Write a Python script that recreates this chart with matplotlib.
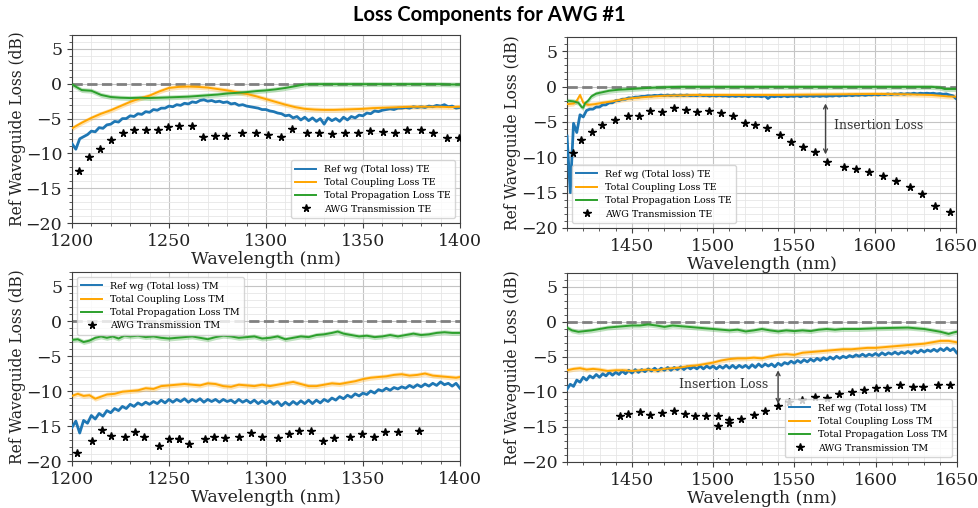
import numpy as np
import matplotlib
matplotlib.use("Agg")
import matplotlib.pyplot as plt
from matplotlib.ticker import MultipleLocator

# ---------------- data ----------------
# Panel TE, 1200-1400 nm
ref_te1 = [-8.6, -9.4, -7.9, -7.6, -7.3, -6.8, -6.9, -6.3, -6.4, -5.9, -5.8, -5.4, -5.5, -5.0, -5.0,
           -4.6, -4.7, -4.3, -4.4, -4.0, -4.1, -3.7, -3.8, -3.5, -3.5, -3.2, -3.3, -3.0, -3.1, -2.8,
           -2.9, -2.6, -2.7, -2.4, -2.3, -2.5, -2.4, -2.6, -2.5, -2.7, -2.6, -2.9, -2.8, -3.1, -3.0,
           -3.2, -3.3, -3.4, -3.5, -3.7, -3.7, -3.9, -4.0, -4.2, -4.3, -4.6, -4.5, -4.9, -4.7, -5.2,
           -4.8, -5.3, -4.9, -5.4, -5.0, -5.8, -4.9, -5.3, -5.0, -5.4, -4.8, -5.2, -4.7, -4.9, -4.5,
           -4.6, -4.2, -4.3, -3.9, -4.0, -3.8, -3.7, -3.6, -3.7, -3.5, -3.5, -3.4, -3.5, -3.3, -3.4,
           -3.3, -3.4, -3.2, -3.3, -3.1, -3.2, -3.0, -3.3, -3.2, -3.5, -3.4]
cpl_te1_wl = [1200, 1205, 1210, 1215, 1220, 1225, 1230, 1235, 1240, 1245, 1250, 1255, 1260, 1265,
              1270, 1275, 1280, 1285, 1290, 1295, 1300, 1305, 1310, 1315, 1320, 1325, 1330, 1335,
              1340, 1345, 1350, 1355, 1360, 1365, 1370, 1375, 1380, 1385, 1390, 1395, 1400]
cpl_te1 = [-6.4, -5.6, -4.9, -4.3, -3.8, -3.2, -2.6, -2.1, -1.7, -1.1, -0.6, -0.45, -0.4, -0.45,
           -0.55, -0.75, -0.95, -1.2, -1.45, -1.8, -2.2, -2.6, -3.0, -3.35, -3.6, -3.7, -3.75, -3.75,
           -3.7, -3.65, -3.6, -3.5, -3.45, -3.4, -3.35, -3.3, -3.3, -3.3, -3.3, -3.35, -3.3]
prop_te1_wl = cpl_te1_wl
prop_te1 = [-0.1, -0.9, -1.0, -1.6, -1.9, -2.0, -2.05, -2.0, -2.05, -2.0, -1.95, -1.9, -1.85, -1.75,
            -1.65, -1.55, -1.4, -1.3, -1.2, -1.05, -0.95, -0.8, -0.6, -0.35, -0.08, -0.05, -0.05, -0.05,
            -0.05, -0.05, -0.05, -0.05, -0.05, -0.05, -0.05, -0.05, -0.05, -0.05, -0.05, -0.1, -0.1]
awg_te1_wl = [1203.4, 1208.7, 1214.4, 1220.1, 1226.1, 1231.9, 1238.4, 1244.6, 1249.6, 1255.1, 1261.9,
              1267.6, 1273.6, 1279.2, 1287.7, 1294.9, 1301.2, 1307.9, 1313.6, 1321.3, 1327.6, 1334.1,
              1340.5, 1347.5, 1353.7, 1360.2, 1366.7, 1372.6, 1380.0, 1385.9, 1393.3, 1399.3]
awg_te1 = [-12.5, -10.5, -9.4, -8.1, -7.1, -6.6, -6.6, -6.7, -6.2, -6.0, -6.1, -7.7, -7.5, -7.5, -7.0,
           -7.0, -7.4, -7.6, -6.5, -7.0, -7.0, -7.2, -7.1, -7.1, -6.8, -6.9, -7.1, -6.7, -6.6, -7.0,
           -7.8, -7.8]

# Panel TE, 1410-1650 nm
ref_te2 = [-7.0, -15.0, -5.2, -6.5, -4.0, -4.3, -3.4, -3.2, -3.2, -2.9, -2.9, -2.6, -2.6, -2.3, -2.3,
           -2.0, -2.0, -1.8, -1.8, -1.6, -1.65, -1.5, -1.5, -1.4, -1.4, -1.3, -1.35, -1.25, -1.3, -1.2,
           -1.3, -1.2, -1.3, -1.2, -1.3, -1.2, -1.3, -1.2, -1.3, -1.25, -1.3, -1.2, -1.3, -1.25, -1.35,
           -1.25, -1.35, -1.25, -1.35, -1.3, -1.4, -1.3, -1.4, -1.3, -1.4, -1.3, -1.45, -1.3, -1.4, -1.35,
           -1.45, -1.3, -1.7, -1.35, -1.45, -1.35, -1.45, -1.3, -1.45, -1.35, -1.4, -1.3, -1.45, -1.3, -1.4,
           -1.3, -1.4, -1.3, -1.4, -1.3, -1.4, -1.3, -1.35, -1.25, -1.35, -1.25, -1.3, -1.2, -1.3, -1.2,
           -1.25, -1.15, -1.25, -1.15, -1.2, -1.1, -1.2, -1.1, -1.15, -1.05, -1.15, -1.05, -1.1, -1.0, -1.1,
           -1.0, -1.05, -0.95, -1.05, -0.95, -1.0, -0.95, -1.0, -0.95, -1.05, -1.0, -1.1, -1.05, -1.2, -1.3,
           -1.7]
cpl_te2_wl = [1410, 1414, 1416, 1418, 1420, 1423, 1427, 1432, 1438, 1445, 1450, 1460, 1470, 1480, 1490,
              1500, 1520, 1540, 1560, 1580, 1600, 1620, 1635, 1645, 1650]
cpl_te2 = [-2.5, -2.4, -2.0, -1.2, -2.3, -2.6, -2.5, -2.3, -2.1, -1.8, -1.65, -1.45, -1.3, -1.25, -1.2,
           -1.2, -1.2, -1.2, -1.15, -1.1, -1.05, -1.1, -1.2, -1.4, -1.45]
prop_te2_wl = [1410, 1414, 1417, 1419, 1420, 1421, 1423, 1425, 1428, 1432, 1436, 1442, 1450, 1460, 1470,
               1480, 1500, 1550, 1600, 1635, 1640, 1643, 1650]
prop_te2 = [-2.0, -2.1, -2.3, -2.9, -3.0, -2.4, -2.0, -1.4, -1.0, -0.8, -0.6, -0.45, -0.35, -0.2, -0.1,
            -0.05, -0.05, -0.05, -0.05, -0.05, -0.15, -0.35, -0.35]
awg_te2_wl = [1413.7, 1418.4, 1425.4, 1431.8, 1439.8, 1447.4, 1454.4, 1461.4, 1468.8, 1475.8, 1483.4,
              1490.4, 1497.4, 1504.8, 1512.6, 1520.0, 1526.1, 1533.3, 1541.3, 1548.3, 1555.5, 1562.7,
              1570.3, 1581.0, 1588.6, 1596.4, 1605.1, 1612.9, 1621.9, 1629.3, 1637.3, 1646.2]
awg_te2 = [-9.35, -7.5, -6.4, -5.5, -4.7, -4.1, -4.1, -3.5, -3.6, -3.1, -3.3, -3.6, -3.5, -3.8, -4.1,
           -5.2, -5.5, -5.8, -6.8, -7.9, -8.5, -9.2, -10.7, -11.4, -11.7, -12.1, -12.7, -13.3, -14.2,
           -15.2, -16.9, -17.8]

# Panel TM, 1200-1400 nm
ref_tm1 = [-15.2, -14.3, -16.0, -14.2, -14.6, -13.5, -14.0, -13.2, -13.6, -12.8, -13.1, -12.5, -12.8,
           -12.2, -12.5, -11.9, -12.2, -11.7, -12.0, -11.6, -11.9, -11.5, -11.8, -11.3, -11.7, -11.2,
           -11.6, -11.2, -11.5, -11.1, -11.6, -11.2, -11.5, -11.1, -11.6, -11.2, -11.5, -11.2, -11.6,
           -11.2, -11.5, -11.3, -11.7, -11.2, -11.6, -11.3, -11.7, -11.3, -11.8, -11.4, -11.8, -11.4,
           -11.9, -11.5, -12.1, -11.6, -12.0, -11.5, -11.9, -11.4, -11.8, -11.3, -11.8, -11.3, -11.7,
           -11.2, -11.5, -11.0, -11.3, -10.8, -11.1, -10.6, -10.9, -10.4, -10.7, -10.3, -10.5, -10.0,
           -10.3, -9.8, -10.0, -9.6, -9.9, -9.5, -9.7, -9.4, -9.6, -9.2, -9.5, -9.1, -9.4, -9.0, -9.3,
           -8.9, -9.2, -8.7, -9.1, -8.9, -9.3, -8.9, -9.6]
cpl_tm1_wl = [1200, 1203, 1206, 1209, 1212, 1215, 1218, 1222, 1226, 1230, 1234, 1238, 1242, 1246, 1250,
              1254, 1258, 1262, 1266, 1270, 1274, 1278, 1282, 1286, 1290, 1294, 1298, 1302, 1306, 1310,
              1314, 1318, 1322, 1326, 1330, 1334, 1338, 1342, 1346, 1350, 1354, 1358, 1362, 1366, 1370,
              1374, 1378, 1382, 1386, 1390, 1394, 1398, 1400]
cpl_tm1 = [-10.7, -10.4, -10.7, -10.6, -11.1, -10.8, -10.5, -10.4, -10.1, -10.0, -9.9, -9.6, -9.7, -9.3,
           -9.2, -9.1, -9.0, -9.1, -9.2, -8.9, -9.0, -9.3, -9.4, -9.1, -9.2, -9.3, -9.1, -9.3, -9.1, -8.9,
           -8.7, -9.0, -9.3, -9.3, -9.1, -8.9, -9.0, -8.8, -8.6, -8.3, -8.1, -8.0, -7.9, -7.7, -7.6, -7.8,
           -7.7, -7.5, -7.8, -7.9, -8.0, -8.1, -8.0]
prop_tm1_wl = [1200, 1203, 1206, 1209, 1212, 1215, 1218, 1221, 1224, 1227, 1230, 1234, 1238, 1242, 1246,
               1250, 1254, 1258, 1262, 1266, 1270, 1274, 1278, 1282, 1286, 1290, 1294, 1298, 1302, 1306,
               1310, 1314, 1318, 1322, 1326, 1330, 1334, 1337, 1340, 1344, 1348, 1352, 1356, 1360, 1364,
               1368, 1372, 1376, 1380, 1384, 1388, 1392, 1396, 1400]
prop_tm1 = [-2.7, -2.6, -3.0, -2.8, -2.4, -2.2, -2.4, -2.2, -2.5, -2.1, -2.2, -2.1, -2.3, -2.2, -2.4,
            -2.5, -2.4, -2.3, -2.2, -2.4, -2.6, -2.3, -2.1, -2.2, -2.4, -2.3, -2.2, -2.5, -2.4, -2.2,
            -2.6, -2.4, -2.2, -2.3, -2.0, -1.9, -1.7, -1.5, -1.8, -2.0, -2.2, -2.1, -2.3, -2.2, -2.0,
            -2.2, -2.0, -1.8, -2.0, -1.9, -1.7, -1.6, -1.7, -1.7]
awg_tm1_wl = [1202.7, 1210.3, 1215.4, 1220.1, 1227.6, 1232.4, 1237.0, 1244.9, 1249.9, 1255.1, 1255.4,
              1260.4, 1268.4, 1273.4, 1279.1, 1286.3, 1292.3, 1298.1, 1306.0, 1311.8, 1317.2, 1323.2,
              1329.2, 1335.2, 1343.1, 1349.6, 1355.7, 1361.6, 1367.9, 1379.1]
awg_tm1 = [-18.9, -17.2, -15.5, -16.4, -16.6, -15.8, -16.6, -17.9, -16.9, -16.8, -16.9, -17.6, -16.8,
           -16.5, -16.7, -16.6, -16.0, -16.5, -16.7, -16.1, -15.7, -15.7, -17.1, -16.7, -16.5, -16.1,
           -16.5, -15.9, -15.8, -15.7]

# Panel TM, 1410-1650 nm
ref_tm2 = [-9.6, -8.9, -9.2, -8.3, -8.6, -7.9, -8.3, -7.7, -8.0, -7.5, -7.9, -7.4, -7.7, -7.2, -7.6,
           -7.2, -7.5, -7.0, -7.4, -6.9, -7.3, -6.8, -7.2, -6.8, -7.1, -6.7, -7.0, -6.6, -7.0, -6.6,
           -6.9, -6.5, -6.9, -6.5, -6.8, -6.4, -6.8, -6.4, -6.7, -6.4, -6.7, -6.3, -6.7, -6.3, -6.6,
           -6.3, -6.7, -6.3, -6.6, -6.2, -6.6, -6.2, -6.6, -6.2, -6.5, -6.2, -6.6, -6.1, -6.5, -6.0,
           -6.4, -6.0, -6.3, -6.0, -6.4, -5.9, -6.2, -5.8, -6.0, -5.6, -5.9, -5.5, -5.8, -5.4, -5.7,
           -5.3, -5.6, -5.2, -5.5, -5.1, -5.4, -5.0, -5.3, -4.9, -5.2, -4.9, -5.1, -4.8, -5.0, -4.7,
           -4.9, -4.6, -4.9, -4.6, -4.8, -4.5, -4.8, -4.4, -4.7, -4.4, -4.6, -4.3, -4.6, -4.3, -4.5,
           -4.2, -4.5, -4.1, -4.4, -4.0, -4.3, -4.0, -4.2, -3.9, -4.2, -3.8, -4.1, -3.7, -4.1, -3.8,
           -4.4]
cpl_tm2_wl = [1410, 1414, 1418, 1422, 1426, 1430, 1435, 1440, 1445, 1450, 1455, 1460, 1465, 1470, 1475,
              1480, 1485, 1490, 1495, 1500, 1505, 1510, 1515, 1520, 1525, 1530, 1535, 1540, 1545, 1550,
              1555, 1560, 1565, 1570, 1575, 1580, 1585, 1590, 1595, 1600, 1605, 1610, 1615, 1620, 1625,
              1630, 1635, 1640, 1645, 1650]
cpl_tm2 = [-6.9, -6.7, -6.6, -6.8, -6.7, -6.8, -7.0, -6.9, -6.9, -7.0, -6.9, -6.8, -6.9, -6.7, -6.6,
           -6.5, -6.3, -6.2, -6.0, -5.8, -5.5, -5.3, -5.2, -5.2, -5.1, -5.2, -4.9, -4.7, -4.6, -4.7,
           -4.4, -4.3, -4.2, -4.1, -4.0, -3.9, -3.9, -3.8, -3.7, -3.7, -3.6, -3.5, -3.4, -3.3, -3.2,
           -3.1, -2.9, -2.7, -2.7, -2.9]
prop_tm2_wl = [1410, 1413, 1417, 1421, 1425, 1430, 1435, 1440, 1445, 1450, 1455, 1460, 1465, 1470, 1475,
               1480, 1485, 1490, 1495, 1500, 1505, 1510, 1515, 1520, 1525, 1530, 1535, 1540, 1545, 1550,
               1555, 1560, 1565, 1570, 1575, 1580, 1590, 1600, 1610, 1620, 1630, 1635, 1640, 1645, 1648,
               1650]
prop_tm2 = [-0.8, -1.2, -1.4, -1.3, -1.2, -1.0, -0.8, -0.7, -0.6, -0.5, -0.5, -0.35, -0.5, -0.7, -0.5,
            -0.6, -0.7, -0.8, -0.9, -1.0, -1.1, -1.2, -1.1, -1.35, -1.2, -1.0, -1.2, -1.35, -1.2, -1.3,
            -1.2, -1.3, -1.1, -1.0, -1.1, -1.0, -1.0, -0.9, -0.85, -0.8, -1.0, -1.2, -1.4, -1.7, -1.5,
            -1.4]
awg_tm2_wl = [1442.5, 1447.6, 1455.2, 1461.0, 1468.2, 1475.6, 1482.8, 1489.1, 1495.5, 1502.9, 1502.9,
              1509.9, 1509.9, 1516.9, 1525.1, 1531.9, 1539.9, 1546.7, 1554.9, 1562.9, 1570.3, 1577.3,
              1585.3, 1592.9, 1600.5, 1607.3, 1614.9, 1623.0, 1629.1, 1638.2, 1645.8]
awg_tm2 = [-13.4, -13.2, -12.8, -13.3, -13.0, -12.7, -13.1, -13.4, -13.4, -13.4, -14.9, -14.0, -14.4,
           -13.8, -13.3, -12.7, -12.0, -11.5, -11.1, -10.7, -10.8, -10.3, -10.0, -9.7, -9.4, -9.4, -9.0,
           -9.3, -9.3, -9.0, -9.0]

# ---------------- styling ----------------
BLUE = "#1f77b4"
ORANGE = "#ffa500"
GREEN = "#2ca02c"
SERIF = "DejaVu Serif"

fig = plt.figure(figsize=(9.79, 5.08), dpi=100)
fig.text(0.5, 0.970, "Loss Components for AWG #1", ha="center", va="center",
         fontsize=14.5, fontweight="bold", family="Lato")

panels = [
    dict(rect=[0.0735, 0.561, 0.3963, 0.370], xlim=(1200, 1400), xt=[1200, 1250, 1300, 1350, 1400],
         ref=ref_te1, ref_rng=(1200, 1400), cwl=cpl_te1_wl, c=cpl_te1, pwl=prop_te1_wl, p=prop_te1,
         awl=awg_te1_wl, a=awg_te1, pol="TE", loc="lower right"),
    dict(rect=[0.5792, 0.5512, 0.3973, 0.376], xlim=(1410, 1650), xt=[1450, 1500, 1550, 1600, 1650],
         ref=ref_te2, ref_rng=(1410, 1650), cwl=cpl_te2_wl, c=cpl_te2, pwl=prop_te2_wl, p=prop_te2,
         awl=awg_te2_wl, a=awg_te2, pol="TE", loc="lower left"),
    dict(rect=[0.0735, 0.0925, 0.3963, 0.372], xlim=(1200, 1400), xt=[1200, 1250, 1300, 1350, 1400],
         ref=ref_tm1, ref_rng=(1200, 1400), cwl=cpl_tm1_wl, c=cpl_tm1, pwl=prop_tm1_wl, p=prop_tm1,
         awl=awg_tm1_wl, a=awg_tm1, pol="TM", loc="upper left"),
    dict(rect=[0.5792, 0.0906, 0.398, 0.372], xlim=(1410, 1650), xt=[1450, 1500, 1550, 1600, 1650],
         ref=ref_tm2, ref_rng=(1410, 1650), cwl=cpl_tm2_wl, c=cpl_tm2, pwl=prop_tm2_wl, p=prop_tm2,
         awl=awg_tm2_wl, a=awg_tm2, pol="TM", loc="lower right"),
]

BAND = 0.35
axes = []
for P in panels:
    ax = fig.add_axes(P["rect"])
    axes.append(ax)
    ax.axhline(0, color="#808080", lw=2.0, ls="--", zorder=1.5)
    wl_ref = np.linspace(P["ref_rng"][0], P["ref_rng"][1], len(P["ref"]))
    ax.plot(wl_ref, P["ref"], color=BLUE, lw=2.0, label=f"Ref wg (Total loss) {P['pol']}", zorder=3)
    cwl = np.array(P["cwl"]); c = np.array(P["c"])
    ax.fill_between(cwl, c - BAND, c + BAND, color=ORANGE, alpha=0.3, lw=0, zorder=2)
    ax.plot(cwl, c, color=ORANGE, lw=1.4, label=f"Total Coupling Loss {P['pol']}", zorder=3)
    pwl = np.array(P["pwl"]); p = np.array(P["p"])
    ax.fill_between(pwl, p - BAND, p + BAND, color=GREEN, alpha=0.3, lw=0, zorder=2)
    ax.plot(pwl, p, color=GREEN, lw=1.4, label=f"Total Propagation Loss {P['pol']}", zorder=3)
    ax.plot(P["awl"], P["a"], ls="none", marker="*", ms=5.5, color="black",
            label=f"AWG Transmission {P['pol']}", zorder=3)

    ax.set_xlim(*P["xlim"])
    ax.set_ylim(-20, 7)
    ax.set_xticks(P["xt"])
    ax.set_yticks([-20, -15, -10, -5, 0, 5])
    ax.xaxis.set_minor_locator(MultipleLocator(10))
    ax.yaxis.set_minor_locator(MultipleLocator(1))
    ax.grid(which="major", color="#c4c4c4", lw=0.8)
    ax.grid(which="minor", color="#e6e6e6", lw=0.6)
    ax.set_axisbelow(True)
    for s in ax.spines.values():
        s.set_color("#404040")
    ax.tick_params(which="both", colors="#404040", labelcolor="#222222", labelsize=12.5)
    for lab in ax.get_xticklabels() + ax.get_yticklabels():
        lab.set_family(SERIF)
    ax.set_xlabel("Wavelength (nm)", family=SERIF, fontsize=12.5, labelpad=1, color="#222222")
    ax.set_ylabel("Ref Waveguide Loss (dB)", family=SERIF, fontsize=11.2, color="#222222")
    width_px = P["rect"][2] * 979
    ax.yaxis.set_label_coords(-46.0 / width_px, 0.5)
    leg = ax.legend(loc=P["loc"], prop={"family": SERIF, "size": 6.8}, framealpha=0.8,
                    handlelength=2.2, borderpad=0.5, labelspacing=0.45)
    for ln in leg.get_lines()[:3]:
        ln.set_linewidth(1.4)

# Insertion loss annotations
arrow_kw = dict(arrowstyle="<->", color="#444444", lw=1.0, shrinkA=0, shrinkB=0,
                mutation_scale=7)
axes[1].annotate("", xy=(1569.5, -2.4), xytext=(1569.5, -9.6), arrowprops=arrow_kw)
axes[1].text(1574.5, -5.5, "Insertion Loss", family=SERIF, fontsize=8.9, color="#333333",
             ha="left", va="center")
axes[3].annotate("", xy=(1540.0, -6.9), xytext=(1540.0, -11.7), arrowprops=arrow_kw)
axes[3].text(1534.0, -8.95, "Insertion Loss", family=SERIF, fontsize=8.9, color="#333333",
             ha="right", va="center")

fig.savefig("out.png", dpi=100)
